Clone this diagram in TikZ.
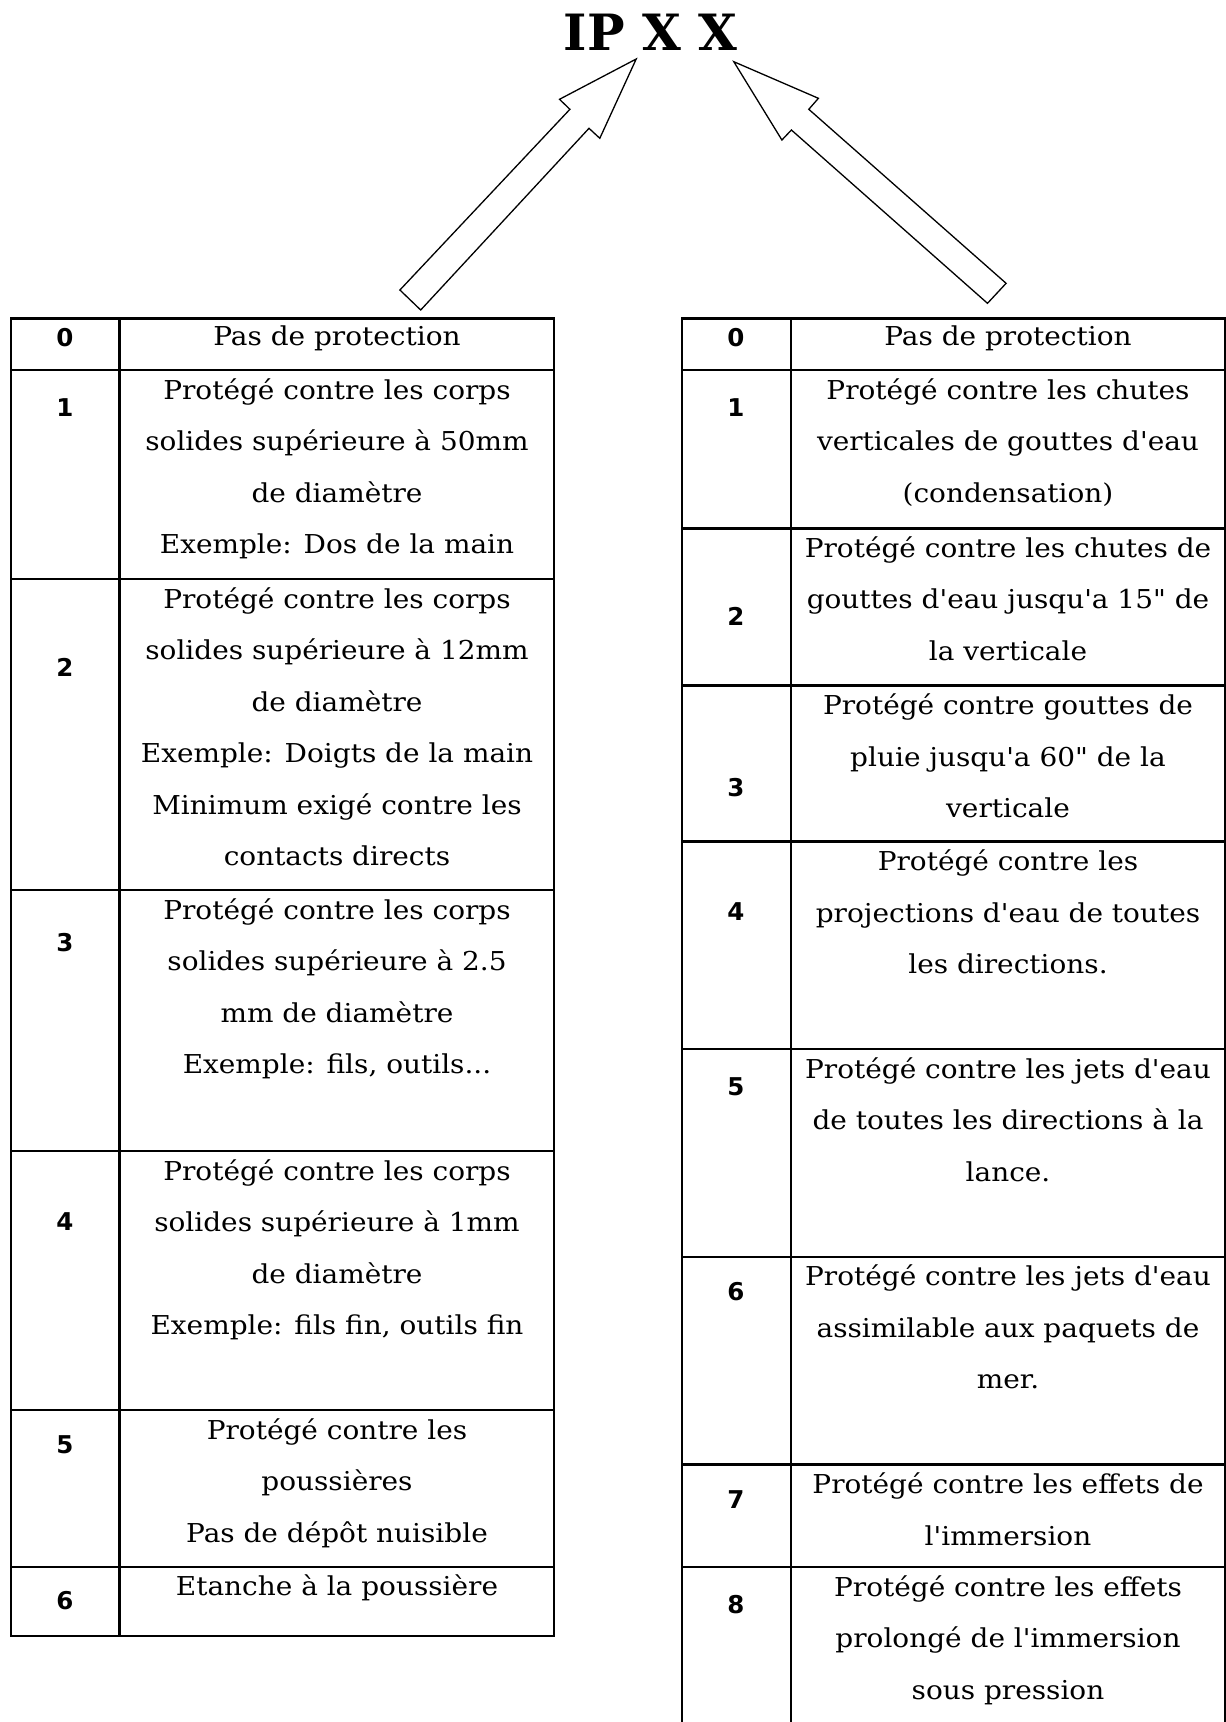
\documentclass[tikz,border=0pt]{standalone}
\usepackage{fontspec}
\newfontfamily\bodyfont{DejaVu Serif}[FakeStretch=1.075]
\newfontfamily\headfont{DejaVu Serif}
\newfontfamily\numfont{DejaVu Sans}
\newcommand\cellstrut{\rule{0pt}{20pt}}
\begin{document}
\begin{tikzpicture}[x=1pt,y=-1pt,
  grid/.style={line width=2.4pt, line join=miter, line cap=rect},
  cell/.style={font=\bodyfont\fontsize{26}{51.5}\selectfont, align=center, anchor=north, inner sep=0pt},
  num/.style={font=\numfont\bfseries\fontsize{24.5}{24.5}\selectfont, anchor=base, inner sep=0pt},
  blockarrow/.style={draw, line width=1.3pt, fill=white, line join=miter},
  titlestyle/.style={font=\headfont\bfseries\fontsize{50}{50}\selectfont, anchor=base, inner sep=0pt}]
\useasboundingbox (0,0) rectangle (1226,1722);

% title
\node[titlestyle] (title) at (650.5,50) {IP X X};

% block arrows pointing at the two digits of the code
\draw[blockarrow] (636.2,59) -- (559.5,99.3) -- (569.9,109.3) -- (399.9,290)
  -- (420.7,310) -- (589,128.3) -- (599.8,138.3) -- cycle;
\draw[blockarrow] (733.8,61.7) -- (818.4,98.3) -- (808.8,109.3) -- (1006.1,283.3)
  -- (987.5,303.3) -- (791.4,130) -- (781.9,140) -- cycle;

% ---------------- left table: solids ----------------
\draw[grid] (11,318.6) rectangle (554,1636);
\draw[grid] (119.5,318.6) -- (119.5,1636);
\foreach \y in {370,579,890,1151,1410,1567}
  \draw[grid] (11,\y) -- (554,\y);

\node[num] (L0n) at (65,346.7) {0};
\node[num] (L1n) at (65,416.7) {1};
\node[num] (L2n) at (65,676.7) {2};
\node[num] (L3n) at (65,951.7) {3};
\node[num] (L4n) at (65,1230.7) {4};
\node[num] (L5n) at (65,1453.7) {5};
\node[num] (L6n) at (65,1609.7) {6};

\node[cell] (L0t) at (337,325) {\cellstrut Pas de protection};
\node[cell] (L1t) at (337,378) {\cellstrut Protégé contre les corps\\solides supérieure à 50mm\\de diamètre\\Exemple: Dos de la main};
\node[cell] (L2t) at (337,587) {\cellstrut Protégé contre les corps\\solides supérieure à 12mm\\de diamètre\\Exemple: Doigts de la main\\Minimum exigé contre les\\contacts directs};
\node[cell] (L3t) at (337,898) {\cellstrut Protégé contre les corps\\solides supérieure à 2.5\\mm de diamètre\\Exemple: fils, outils...};
\node[cell] (L4t) at (337,1159) {\cellstrut Protégé contre les corps\\solides supérieure à 1mm\\de diamètre\\Exemple: fils fin, outils fin};
\node[cell] (L5t) at (337,1418) {\cellstrut Protégé contre les\\poussières\\Pas de dépôt nuisible};
\node[cell] (L6t) at (337,1575) {\cellstrut Etanche à la poussière};

% ---------------- right table: liquids ----------------
\draw[grid] (682,1740) -- (682,318.6) -- (1225,318.6) -- (1225,1740);
\draw[grid] (790.7,318.6) -- (790.7,1740);
\foreach \y in {370,528.4,685.5,841.5,1049,1256.8,1464.6,1567}
  \draw[grid] (682,\y) -- (1225,\y);

\node[num] (R0n) at (736,346.7) {0};
\node[num] (R1n) at (736,416.7) {1};
\node[num] (R2n) at (736,625.7) {2};
\node[num] (R3n) at (736,796.7) {3};
\node[num] (R4n) at (736,920.7) {4};
\node[num] (R5n) at (736,1095.7) {5};
\node[num] (R6n) at (736,1300.7) {6};
\node[num] (R7n) at (736,1508.7) {7};
\node[num] (R8n) at (736,1613.7) {8};

\node[cell] (R0t) at (1008,325) {\cellstrut Pas de protection};
\node[cell] (R1t) at (1008,378) {\cellstrut Protégé contre les chutes\\verticales de gouttes d'eau\\(condensation)};
\node[cell] (R2t) at (1008,536.4) {\cellstrut Protégé contre les chutes de\\gouttes d'eau jusqu'a 15" de\\la verticale};
\node[cell] (R3t) at (1008,693.5) {\cellstrut Protégé contre gouttes de\\pluie jusqu'a 60" de la\\verticale};
\node[cell] (R4t) at (1008,849.5) {\cellstrut Protégé contre les\\projections d'eau de toutes\\les directions.};
\node[cell] (R5t) at (1008,1057) {\cellstrut Protégé contre les jets d'eau\\de toutes les directions à la\\lance.};
\node[cell] (R6t) at (1008,1264.8) {\cellstrut Protégé contre les jets d'eau\\assimilable aux paquets de\\mer.};
\node[cell] (R7t) at (1008,1472.6) {\cellstrut Protégé contre les effets de\\l'immersion};
\node[cell] (R8t) at (1008,1575) {\cellstrut Protégé contre les effets\\prolongé de l'immersion\\sous pression};
\end{tikzpicture}
\end{document}
